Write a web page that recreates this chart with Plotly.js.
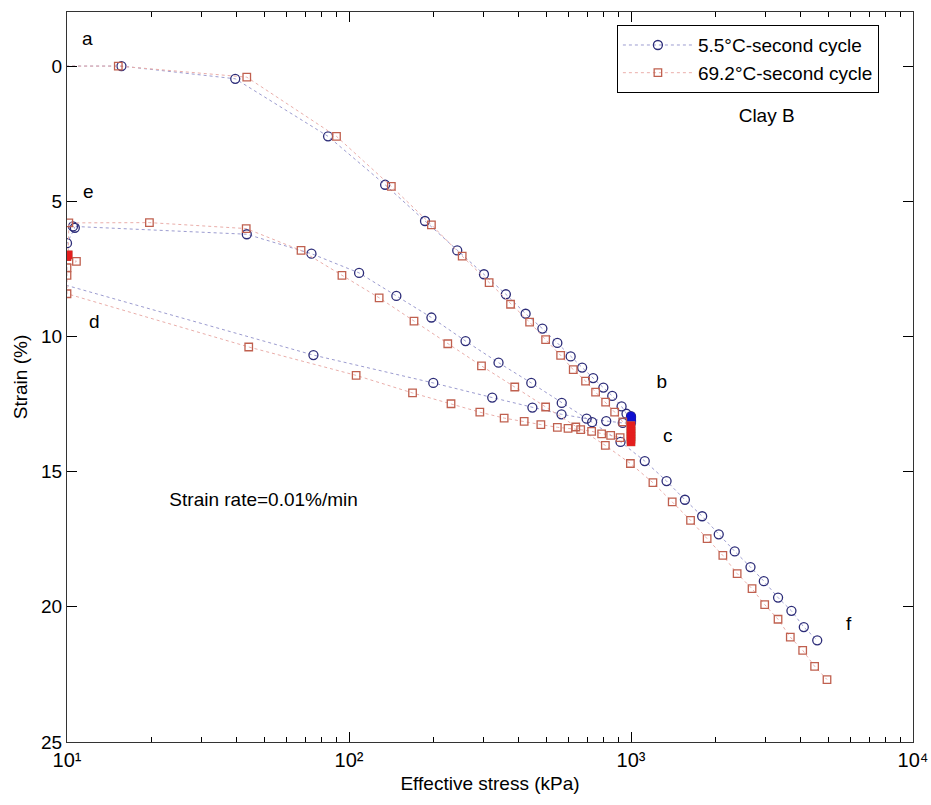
<!DOCTYPE html>
<html><head><meta charset="utf-8">
<script src="https://cdn.plot.ly/plotly-3.0.1.min.js"></script>
<style>html,body{margin:0;padding:0;background:#fff}#chart{width:931px;height:805px}</style>
</head><body><div id="chart"></div>
<script>
// 5.5 °C – full path: loading a→b, creep b→c, unloading c→d, swelling d→e, reloading e→f
const coldStress = [5, 15.6, 39.5, 84.3, 134.3, 186, 242, 301, 360, 423, 485, 548, 611, 671, 734, 798, 858, 926, 964,
  1000, 1000, 1000, 1000, 1000, 1000,
  935, 817, 696, 567, 447, 322, 199, 74.8, 9.5,
  10, 10.66, 10.5,
  43.4, 73.6, 108.6, 147.2, 196, 259, 339, 443, 568, 728, 918, 1119, 1337, 1553, 1788, 2047, 2333, 2653, 2958, 3323, 3706, 4100, 4575];
const coldStrain = [0, 0, 0.47, 2.6, 4.39, 5.73, 6.82, 7.7, 8.44, 9.16, 9.71, 10.24, 10.74, 11.15, 11.54, 11.89, 12.2, 12.59, 12.86,
  12.95, 13.0, 13.05, 13.1, 13.15, 13.2,
  13.2, 13.13, 13.04, 12.88, 12.63, 12.26, 11.72, 10.69, 8.05,
  6.55, 5.98, 5.93,
  6.22, 6.94, 7.65, 8.5, 9.3, 10.17, 10.97, 11.72, 12.46, 13.17, 13.9, 14.61, 15.35, 16.04, 16.65, 17.32, 17.95, 18.53, 19.05, 19.66, 20.15, 20.75, 21.24];
const coldCreepStress = [1000, 1000, 1000, 1000, 1000, 1000];
const coldCreepStrain = [12.95, 13.0, 13.05, 13.1, 13.15, 13.2];

// 69.2 °C – full path
const hotStress = [5, 15.2, 43.4, 90.3, 141.3, 196, 252, 314, 374, 437, 498, 563, 624, 690, 749, 813, 875, 935,
  1000, 1000, 1000, 1000, 1000, 1000, 1000,
  915, 847, 787, 725, 663, 598, 548, 479, 418, 355, 291, 230, 168, 106, 44.1, 10,
  10, 10, 10.8, 10, 10.1, 10.15,
  19.6, 43.2, 67.6, 94.4, 127.9, 170, 224, 295, 387, 498, 637, 811, 995, 1196, 1400, 1626, 1862, 2117, 2379, 2687, 2979, 3322, 3672, 4063, 4478, 4955];
const hotStrain = [0, 0, 0.41, 2.6, 4.45, 5.87, 7.03, 8.01, 8.81, 9.47, 10.12, 10.7, 11.23, 11.65, 12.06, 12.43, 12.8, 13.16,
  13.3, 13.4, 13.5, 13.6, 13.7, 13.8, 13.9,
  13.74, 13.66, 13.6, 13.51, 13.45, 13.4, 13.36, 13.26, 13.14, 13.02, 12.8, 12.49, 12.09, 11.44, 10.39, 8.42,
  7.74, 7.46, 7.22, 7.05, 6.98, 5.8,
  5.79, 6.01, 6.82, 7.74, 8.57, 9.43, 10.27, 11.09, 11.87, 12.61, 13.35, 14.03, 14.7, 15.41, 16.12, 16.8, 17.48, 18.1, 18.77, 19.33, 19.92, 20.46, 21.12, 21.61, 22.2, 22.69];
const hotCreepStress = [1000, 1000, 1000, 1000, 1000, 1000, 1000, 10, 10.1];
const hotCreepStrain = [13.3, 13.4, 13.5, 13.6, 13.7, 13.8, 13.9, 7.05, 6.98];

const seriesNames = ['5.5°C-second cycle', '69.2°C-second cycle'];
const xTickVals = [10, 100, 1000, 10000];
const xTickText = ['10¹', '10²', '10³', '10⁴'];
const yTickVals = [0, 5, 10, 15, 20, 25];
const labelTexts = ['a', 'e', 'd', 'b', 'c', 'f', 'Clay B', 'Strain rate=0.01%/min'];
// label anchor points in axis units (stress, strain)
const labelStress = [11.8, 11.9, 12.5, 1285, 1349, 5916, 3027, 49.8];
const labelStrain = [-0.95, 4.71, 9.53, 11.73, 13.73, 20.68, 1.90, 16.09];

const fontFamily = 'Liberation Sans, Arial, sans-serif';

const traces = [
  {x: coldStress, y: coldStrain, name: seriesNames[0], mode: 'lines+markers', type: 'scatter',
   line: {color: '#9c9cd0', width: 1, dash: 'dot'},
   marker: {symbol: 'circle-open', size: 9, color: '#2c2c78', line: {width: 1.3}}},
  {x: coldCreepStress, y: coldCreepStrain, mode: 'markers', type: 'scatter', showlegend: false, hoverinfo: 'skip',
   marker: {symbol: 'circle', size: 9, color: '#1010d0'}},
  {x: hotStress, y: hotStrain, name: seriesNames[1], mode: 'lines+markers', type: 'scatter',
   line: {color: '#eaaeaa', width: 1, dash: 'dot'},
   marker: {symbol: 'square-open', size: 7.5, color: '#c0604f', line: {width: 1.3}}},
  {x: hotCreepStress, y: hotCreepStrain, mode: 'markers', type: 'scatter', showlegend: false, hoverinfo: 'skip',
   marker: {symbol: 'square', size: 8, color: '#e41e1e'}},
  {x: labelStress, y: labelStrain, text: labelTexts, mode: 'text', type: 'scatter', showlegend: false, hoverinfo: 'skip',
   textposition: 'middle center', cliponaxis: false,
   textfont: {family: fontFamily, size: 19, color: '#000000'}}
];

const layout = {
  width: 931, height: 805,
  margin: {l: 67, r: 18, t: 12, b: 63},
  paper_bgcolor: '#fff', plot_bgcolor: '#fff',
  font: {family: fontFamily, size: 19, color: '#000'},
  showlegend: true,
  legend: {x: 0.65, y: 0.982, xanchor: 'left', yanchor: 'top', bgcolor: '#fff', bordercolor: '#000', borderwidth: 1,
           font: {size: 19}, tracegroupgap: 0, itemwidth: 70},
  xaxis: {type: 'log', range: [1, 4], tickmode: 'array', tickvals: xTickVals, ticktext: xTickText,
          ticks: 'inside', ticklen: 10, tickcolor: '#000', showline: true, linecolor: '#333', linewidth: 1.3, mirror: 'ticks',
          showgrid: false, zeroline: false, tickfont: {size: 20},
          minor: {ticks: 'inside', ticklen: 5, dtick: 'D1', tickcolor: '#000', showgrid: false},
          title: {text: 'Effective stress (kPa)', font: {size: 19}, standoff: 6}},
  yaxis: {range: [25, -2], tickmode: 'array', tickvals: yTickVals,
          ticks: 'inside', ticklen: 10, tickcolor: '#000', showline: true, linecolor: '#333', linewidth: 1.3, mirror: 'ticks',
          showgrid: false, zeroline: false,
          title: {text: 'Strain (%)', font: {size: 19}, standoff: 8}}
};

Plotly.newPlot('chart', traces, layout, {displayModeBar: false});
</script>
</body></html>
